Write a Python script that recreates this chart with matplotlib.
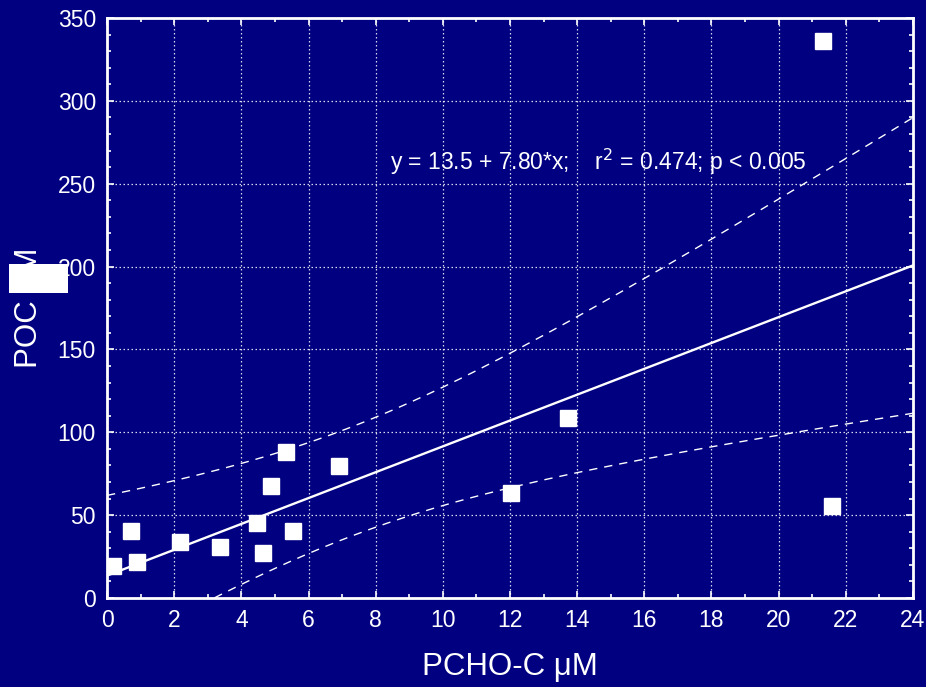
import numpy as np
import matplotlib
matplotlib.use("Agg")
import matplotlib.pyplot as plt
from matplotlib.patches import Rectangle
from matplotlib.ticker import MultipleLocator

plt.rcParams['font.family'] = ['Liberation Sans', 'DejaVu Sans']

# Data
pcho_c = [0.18, 0.72, 0.90, 2.18, 3.37, 4.47, 4.65, 4.89, 5.34, 5.55, 6.92, 12.02, 13.74, 21.32, 21.59]
poc = [19.3, 40.4, 21.7, 33.8, 30.8, 45.3, 27.2, 67.6, 88.1, 40.4, 79.7, 63.4, 108.6, 336.1, 55.5]
intercept = 13.5
slope = 7.80
r2_text = "0.474"
p_text = "p < 0.005"
t_crit = 2.1604  # t(0.975, df=13)

BG = '#000080'
x = np.array(pcho_c)
y = np.array(poc)
n = len(x)

fig = plt.figure(figsize=(9.26, 6.87), dpi=100, facecolor=BG)
ax = fig.add_axes([107/926, 89/687, 806/926, 580/687], facecolor=BG)

xs = np.linspace(0, 24, 200)
fit = intercept + slope * xs
resid = y - (intercept + slope * x)
s = np.sqrt(np.sum(resid**2) / (n - 2))
sxx = np.sum((x - x.mean())**2)
half = t_crit * s * np.sqrt(1.0/n + (xs - x.mean())**2 / sxx)

ax.plot(xs, fit, color='white', lw=1.7, zorder=3)
ax.plot(xs, fit + half, color='white', lw=1.0, ls=(0, (6, 5)), zorder=3)
ax.plot(xs, fit - half, color='white', lw=1.0, ls=(0, (6, 5)), zorder=3)
ax.plot(x, y, ls='none', marker='s', ms=11.5, mfc='white', mec='white', zorder=4)

ax.set_xlim(0, 24)
ax.set_ylim(0, 350)
ax.xaxis.set_major_locator(MultipleLocator(2))
ax.xaxis.set_minor_locator(MultipleLocator(1))
ax.yaxis.set_major_locator(MultipleLocator(50))
ax.yaxis.set_minor_locator(MultipleLocator(10))
ax.grid(True, which='major', color='white', ls=(0, (1.2, 2)), lw=0.9, alpha=0.85)
ax.tick_params(which='both', direction='in', colors='white', top=True, right=True,
               labelsize=16.5, width=1.2)
ax.tick_params(which='major', length=5, pad=8)
ax.tick_params(which='minor', length=3)
for sp in ax.spines.values():
    sp.set_color('white')
    sp.set_linewidth(2)

ax.set_xlabel('PCHO-C μM', color='white', fontsize=22.5, labelpad=14)
ax.set_ylabel('POC μM', color='white', fontsize=22.5, labelpad=10)

ax.text(8.44, 263, f"y = {intercept:.1f} + {slope:.2f}*x;    r$^2$ = {r2_text}; {p_text}",
        color='white', fontsize=16.5, va='center', ha='left')

fig.patches.append(Rectangle((9/926, 1 - 293/687), 59/926, 29/687,
                             transform=fig.transFigure, facecolor='white',
                             edgecolor='none', zorder=10))

fig.savefig('out.png', dpi=100, facecolor=BG)
